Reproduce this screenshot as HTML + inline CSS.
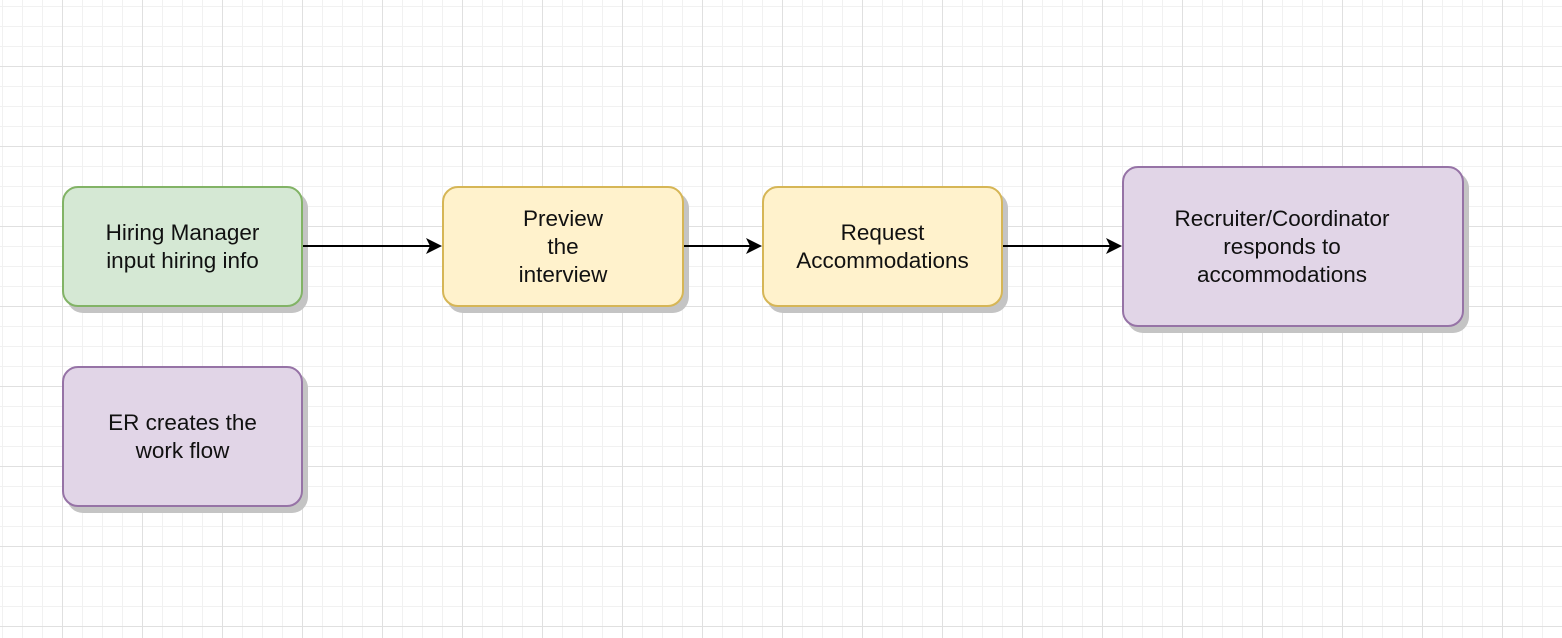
<!DOCTYPE html>
<html><head><style>
body{margin:0;width:1562px;height:638px;overflow:hidden;background:#fff;
background-image:
linear-gradient(#e0e0e0 1px,transparent 1px),
linear-gradient(90deg,#e0e0e0 1px,transparent 1px),
linear-gradient(#f1f1f1 1px,transparent 1px),
linear-gradient(90deg,#f1f1f1 1px,transparent 1px);
background-size:80px 80px,80px 80px,20px 20px,20px 20px;
background-position:0 66px,62px 0,0 6px,2px 0;
font-family:"Liberation Sans",sans-serif;}
.b{position:absolute;box-sizing:border-box;border:2px solid;border-radius:16px;display:flex;align-items:center;justify-content:center;text-align:center;font-size:22.5px;line-height:28px;color:#111;box-shadow:5px 6px 0 #c4c4c4;}
.g{background:#d5e8d4;border-color:#82b366}
.y{background:#fff2cc;border-color:#d6b656}
.p{background:#e1d5e7;border-color:#9673a6}
</style></head><body>
<div class="b g" style="left:62px;top:186px;width:241px;height:121px">Hiring Manager<br>input hiring info</div>
<div class="b y" style="left:442px;top:186px;width:242px;height:121px">Preview<br>the<br>interview</div>
<div class="b y" style="left:762px;top:186px;width:241px;height:121px">Request<br>Accommodations</div>
<div class="b p" style="left:1122px;top:166px;width:342px;height:161px;padding-right:22px">Recruiter/Coordinator<br>responds to<br>accommodations</div>
<div class="b p" style="left:62px;top:366px;width:241px;height:141px">ER creates the<br>work flow</div>
<svg style="position:absolute;left:0;top:0" width="1562" height="638">
<g stroke="#000" stroke-width="2">
<line x1="303" y1="246" x2="432" y2="246"/>
<line x1="684" y1="246" x2="752" y2="246"/>
<line x1="1003" y1="246" x2="1112" y2="246"/>
</g>
<g fill="#000">
<path d="M442 246 L426 238 L430 246 L426 254Z"/>
<path d="M762 246 L746 238 L750 246 L746 254Z"/>
<path d="M1122 246 L1106 238 L1110 246 L1106 254Z"/>
</g>
</svg>
</body></html>
